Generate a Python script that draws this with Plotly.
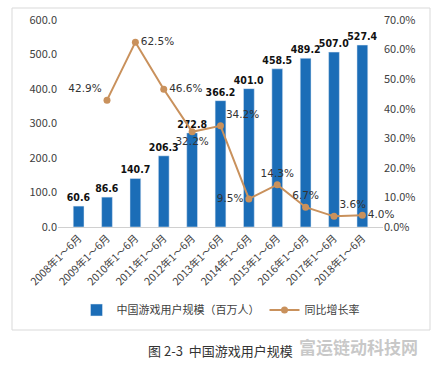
import plotly.graph_objects as go

categories = ["2008年1～6月", "2009年1～6月", "2010年1～6月", "2011年1～6月", "2012年1～6月",
              "2013年1～6月", "2014年1～6月", "2015年1～6月", "2016年1～6月", "2017年1～6月", "2018年1～6月"]
users = [60.6, 86.6, 140.7, 206.3, 272.8, 366.2, 401.0, 458.5, 489.2, 507.0, 527.4]
growth = [None, 42.9, 62.5, 46.6, 32.2, 34.2, 9.5, 14.3, 6.7, 3.6, 4.0]
growth_pos = ["middle left", "top left", "middle right", "middle right", "bottom center",
              "top right", "middle left", "top center", "top center", "top right", "middle right"]

W, H = 435, 368
L, R, T, B = 58, 383, 20, 227

FONT = "Noto Sans CJK SC, Liberation Sans, sans-serif"
BAR = "#1B6DB7"
LINE = "#C9915C"

fig = go.Figure()
fig.add_trace(go.Bar(
    x=categories, y=users, name="中国游戏用户规模（百万人）",
    marker=dict(color=BAR), width=0.38,
    text=[f"{v:.1f}" for v in users], textposition="outside", constraintext="none",
    textfont=dict(size=10.5, color="#111", family="DejaVu Sans Condensed, DejaVu Sans, sans-serif", weight="bold"),
    cliponaxis=False, yaxis="y",
))
fig.add_trace(go.Scatter(
    x=categories, y=[g / 100 if g is not None else None for g in growth], name="同比增长率",
    mode="lines+markers+text", line=dict(color=LINE, width=2),
    marker=dict(color=LINE, size=7),
    text=["" if g is None else f"{g:.1f}%" for g in growth], textposition=growth_pos,
    textfont=dict(size=10.5, color="#333", family="DejaVu Sans, sans-serif"),
    cliponaxis=False, yaxis="y2",
))

px = lambda x: (x - L) / (R - L)
py = lambda y: (B - y) / (B - T)

fig.update_layout(
    width=W, height=H,
    margin=dict(l=L, r=W - R, t=T, b=H - B, autoexpand=False),
    paper_bgcolor="white", plot_bgcolor="white",
    font=dict(family=FONT, size=11, color="#404040"),
    bargap=0.6,
    xaxis=dict(tickangle=-45, showgrid=False, showline=True, linecolor="#D0D0D0",
               ticks="", automargin=False, tickfont=dict(size=10.5, color="#404040")),
    yaxis=dict(range=[0, 600], dtick=100, tickformat=".1f", showgrid=False, zeroline=False,
               ticks="", automargin=False, tickfont=dict(size=11, color="#404040")),
    yaxis2=dict(range=[0, 0.7], dtick=0.1, tickformat=".1%", overlaying="y", side="right",
                showgrid=False, zeroline=False, ticks="", automargin=False,
                tickfont=dict(size=11, color="#404040")),
    legend=dict(orientation="h", x=0.5, xanchor="center", y=py(310), yanchor="middle",
                font=dict(size=11, color="#404040"), bgcolor="rgba(0,0,0,0)"),
    shapes=[dict(type="rect", xref="paper", yref="paper",
                 x0=px(12), x1=px(430), y0=py(330), y1=py(8),
                 line=dict(color="#D9D9D9", width=1), layer="below")],
    annotations=[
        dict(text="图 2-3  中国游戏用户规模", xref="paper", yref="paper", x=px(220), y=py(350),
             showarrow=False, font=dict(size=13, color="#333"), xanchor="center", yanchor="middle"),
        dict(text="<b>富运链动科技网</b>", xref="paper", yref="paper", x=px(358), y=py(346),
             showarrow=False, font=dict(size=17, color="rgba(190,190,190,0.85)"),
             xanchor="center", yanchor="middle"),
    ],
)

fig.write_html("out.html", config={"displayModeBar": False},
               post_script="document.body.style.margin='0';document.body.style.overflow='hidden';")
